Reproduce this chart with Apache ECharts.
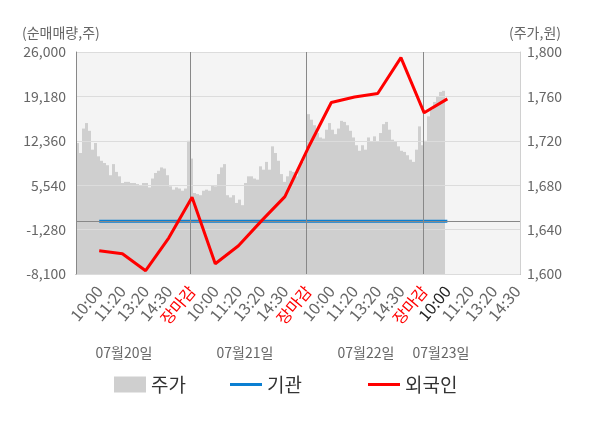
<!DOCTYPE html>
<html>
<head>
<meta charset="utf-8">
<script src="https://cdn.jsdelivr.net/npm/echarts@6/dist/echarts.min.js"></script>
<style>
  html, body { margin: 0; padding: 0; background: #fff; }
  #chart { width: 600px; height: 428px; }
</style>
</head>
<body>
<div id="chart"></div>
<script>
var FONT = "'Noto Sans CJK KR', 'Noto Sans', sans-serif";

// x축 시간 라벨 (장마감 = 그날 마지막)
var timeLabels = [
  '10:00', '11:20', '13:20', '14:30', '장마감',
  '10:00', '11:20', '13:20', '14:30', '장마감',
  '10:00', '11:20', '13:20', '14:30', '장마감',
  '10:00', '11:20', '13:20', '14:30'
];
var dayLabels = ['07월20일', '07월21일', '07월22일', '07월23일'];

// 순매매량 (주)
var foreignNet = [-4530, -4990, -7595, -2540, 3695, -6520, -3765, 100, 3790, 11250,
                  18250, 19100, 19630, 25140, 16655, 18800];
var instNet = [0, 0, 0, 0, 0, 0, 0, 0, 0, 0, 0, 0, 0, 0, 0, 0];

// 주가 (분봉, 원)
var priceSlots = 148;
var prices = [
  1718, 1709, 1731, 1736, 1729, 1712, 1718, 1706, 1702, 1700,
  1698, 1689, 1699, 1692, 1688, 1682, 1683, 1683, 1682, 1682,
  1681, 1680, 1682, 1682, 1678, 1686, 1691, 1693, 1696, 1695,
  1689, 1679, 1676, 1678, 1677, 1675, 1677, 1720, 1704, 1673,
  1672, 1671, 1675, 1676, 1675, 1680, 1679, 1690, 1696, 1699,
  1671, 1669, 1671, 1664, 1667, 1662, 1682, 1688, 1688, 1686,
  1685, 1697, 1694, 1701, 1694, 1715, 1709, 1702, 1690, 1683,
  1688, 1693, 1692, 1688, 1697, 1701, 1706, 1744, 1739, 1734,
  1727, 1723, 1722, 1730, 1736, 1730, 1726, 1731, 1738, 1737,
  1734, 1729, 1723, 1716, 1711, 1716, 1712, 1723, 1719, 1724,
  1719, 1727, 1735, 1737, 1730, 1721, 1719, 1715, 1711, 1710,
  1707, 1703, 1701, 1712, 1733, 1716, 1720, 1742, 1748, 1755,
  1760, 1764, 1765
];

function pares(arr) {
  var out = [];
  for (var i = 0; i < arr.length; i++) out.push([i, arr[i]]);
  return out;
}

function fmtNum(v) {
  return Number(v).toLocaleString('en-US');
}

var slots = [];
for (var s = 0; s < priceSlots; s++) slots.push(String(s));

// 날짜 라벨, 축 이름
var textos = [];
var diaX = [124, 245, 366, 441];
dayLabels.forEach(function (d, i) {
  textos.push({
    type: 'text', x: diaX[i], y: 353,
    style: { text: d, fill: '#666', font: '14px ' + FONT, align: 'center', verticalAlign: 'middle' }
  });
});
textos.push({
  type: 'text', x: 22, y: 33,
  style: { text: '(순매매량,주)', fill: '#666', font: '14px ' + FONT, align: 'left', verticalAlign: 'middle' }
});
textos.push({
  type: 'text', x: 509, y: 33,
  style: { text: '(주가,원)', fill: '#666', font: '14px ' + FONT, align: 'left', verticalAlign: 'middle' }
});

var legendText = { fontSize: 19, color: '#333', fontFamily: FONT };

var myChart = echarts.init(document.getElementById('chart'));
myChart.setOption({
  animation: false,
  textStyle: { fontFamily: FONT },
  grid: {
    left: 76, right: 80, top: 52, bottom: 154,
    show: true, backgroundColor: '#f4f4f4', borderWidth: 0
  },
  legend: [
    { data: ['주가'], left: 114, top: 375, padding: 0, icon: 'rect',
      itemWidth: 32, itemHeight: 16, textStyle: legendText },
    { data: ['기관'], left: 230, top: 375, padding: 0, icon: 'rect',
      itemWidth: 32, itemHeight: 3, textStyle: legendText },
    { data: ['외국인'], left: 368, top: 375, padding: 0, icon: 'rect',
      itemWidth: 32, itemHeight: 3, textStyle: legendText }
  ],
  graphic: textos,
  xAxis: [
    {
      type: 'value', min: -1, max: 18.13, interval: 1,
      axisLine: { onZero: false, lineStyle: { color: '#888' } },
      axisTick: { show: false },
      splitLine: { show: false },
      axisLabel: {
        rotate: 50, margin: 14, fontSize: 16, color: '#666', fontFamily: FONT,
        showMinLabel: true, showMaxLabel: true,
        formatter: function (v) {
          var i = Math.round(v);
          if (Math.abs(v - i) > 1e-6 || i < 0 || i >= timeLabels.length) return '';
          if (timeLabels[i] === '장마감') return '{r|장마감}';
          if (i === 15) return '{k|' + timeLabels[i] + '}';
          return timeLabels[i];
        },
        rich: {
          r: { color: '#ff0000', fontSize: 16, fontFamily: FONT },
          k: { color: '#222', fontSize: 16, fontFamily: FONT }
        }
      }
    },
    {
      type: 'category', data: slots, show: false, boundaryGap: true
    }
  ],
  yAxis: [
    {
      type: 'value', position: 'left', min: -8100, max: 26000, interval: 6820,
      z: 3,
      axisLine: { show: true, onZero: false, lineStyle: { color: '#888' } },
      axisTick: { show: false },
      splitLine: { lineStyle: { color: '#dcdcdc' } },
      axisLabel: { color: '#666', fontSize: 14, margin: 10, formatter: fmtNum }
    },
    {
      type: 'value', position: 'right', min: 1600, max: 1800, interval: 40,
      axisLine: { show: true, onZero: false, lineStyle: { color: '#d0d0d0' } },
      axisTick: { show: false },
      splitLine: { show: false },
      axisLabel: { color: '#666', fontSize: 14, margin: 7, formatter: fmtNum }
    }
  ],
  series: [
    {
      name: '주가', type: 'bar', xAxisIndex: 1, yAxisIndex: 1,
      data: prices, barCategoryGap: '0%', z: 1,
      itemStyle: { color: '#cfcfcf' }
    },
    {
      name: '기관', type: 'line', xAxisIndex: 0, yAxisIndex: 0,
      data: pares(instNet), symbol: 'none', z: 4,
      lineStyle: { color: '#0a7fd2', width: 3 },
      itemStyle: { color: '#0a7fd2' },
      markLine: {
        silent: true, symbol: 'none', label: { show: false },
        lineStyle: { color: '#888', width: 1, type: 'solid' },
        data: [{ yAxis: 0 }, { xAxis: 3.94 }, { xAxis: 8.94 }, { xAxis: 13.94 }]
      }
    },
    {
      name: '외국인', type: 'line', xAxisIndex: 0, yAxisIndex: 0,
      data: pares(foreignNet), symbol: 'none', z: 5,
      lineStyle: { color: '#ff0000', width: 3 },
      itemStyle: { color: '#ff0000' }
    }
  ]
});
</script>
</body>
</html>
